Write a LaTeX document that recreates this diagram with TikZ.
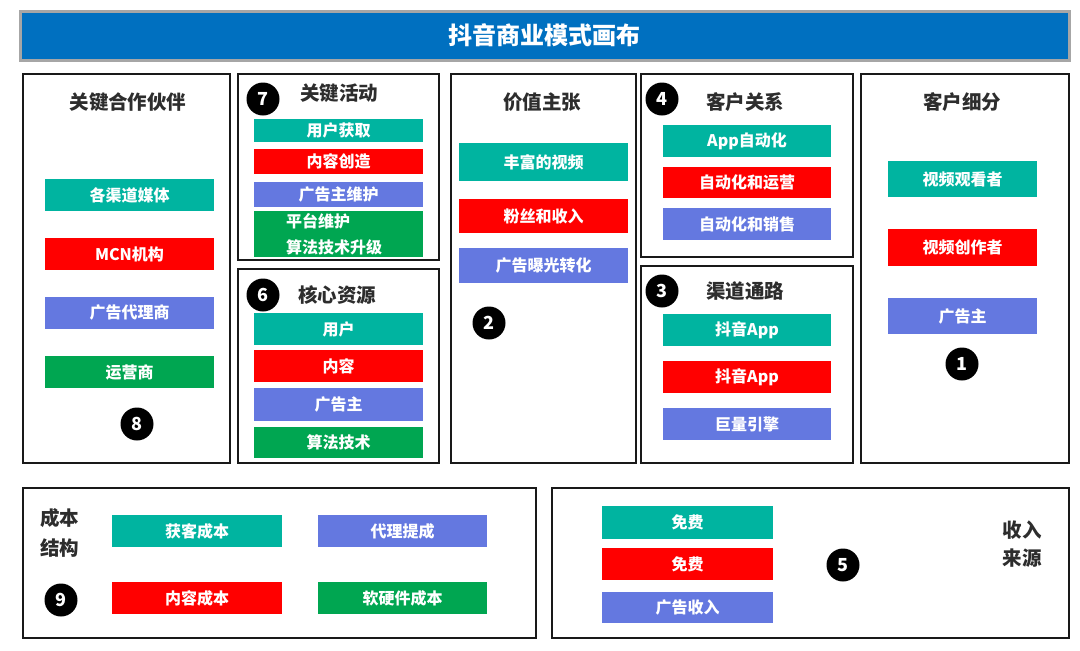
\documentclass[tikz,border=0pt]{standalone}
\usepackage{fontspec}
\setmainfont{Noto Sans CJK SC}
\definecolor{cteal}{RGB}{0,180,160}
\definecolor{cred}{RGB}{255,0,0}
\definecolor{cblue}{RGB}{100,120,224}
\definecolor{cgreen}{RGB}{0,166,81}
\definecolor{ctitle}{RGB}{0,112,192}
\definecolor{cframe}{RGB}{25,25,25}
\definecolor{chead}{RGB}{45,45,45}
\begin{document}
\begin{tikzpicture}[x=1pt,y=-1pt,
  panel/.style={draw=cframe, line width=2.6pt, rectangle, inner sep=0pt},
  itm/.style={rectangle, inner sep=0pt, text=white, font=\bfseries\fontsize{16}{16}\selectfont},
  hd/.style={text=chead, inner sep=0pt, font=\bfseries\fontsize{19.5}{20}\selectfont},
  num/.style={circle, fill=black, text=white, minimum size=33pt, inner sep=0pt, font=\bfseries\fontsize{18}{18}\selectfont},
  w169/.style={minimum width=169pt}
]
\useasboundingbox (0,0) rectangle (1080,651);
% title bar
\node[rectangle, fill=ctitle, draw=black!35, line width=3pt, minimum width=1049pt, minimum height=49pt, text=white, font=\bfseries\fontsize{24}{24}\selectfont] (title) at (544.5,35.5) {抖音商业模式画布};
% panels
\node[panel, minimum width=207pt, minimum height=389pt] (kp) at (126.5,268.5) {};
\node[panel, minimum width=201pt, minimum height=186pt] (ka) at (338.5,167) {};
\node[panel, minimum width=201pt, minimum height=194pt] (kr) at (338.5,366) {};
\node[panel, minimum width=185pt, minimum height=389pt] (vp) at (543.5,268.5) {};
\node[panel, minimum width=212pt, minimum height=183pt] (cr) at (747,165.5) {};
\node[panel, minimum width=212pt, minimum height=197pt] (ch) at (747,364.5) {};
\node[panel, minimum width=208pt, minimum height=389pt] (cs) at (965,268.5) {};
\node[panel, minimum width=513pt, minimum height=150pt] (cost) at (279.5,563) {};
\node[panel, minimum width=517pt, minimum height=150pt] (rev) at (810.5,563) {};

% key partners
\node[hd] (kph) at (128,102) {关键合作伙伴};
\node[itm, w169, minimum height=32pt, fill=cteal] (kp1) at (129.5,195) {各渠道媒体};
\node[itm, w169, minimum height=32pt, fill=cred] (kp2) at (129.5,254) {MCN机构};
\node[itm, w169, minimum height=32pt, fill=cblue] (kp3) at (129.5,312.5) {广告代理商};
\node[itm, w169, minimum height=32pt, fill=cgreen] (kp4) at (129.5,372) {运营商};
\node[num] (n8) at (137,424) {8};

% key activities
\node[num] (n7) at (263,99) {7};
\node[hd] (kah) at (339,93) {关键活动};
\node[itm, w169, minimum height=23.5pt, fill=cteal] (ka1) at (338.5,130.5) {用户获取};
\node[itm, w169, minimum height=25pt, fill=cred] (ka2) at (338.5,161.5) {内容创造};
\node[itm, w169, minimum height=25pt, fill=cblue] (ka3) at (338.5,194.5) {广告主维护};
\node[itm, fill=cgreen, minimum height=46pt, inner xsep=32pt, text width=105pt, align=left, font=\bfseries\fontsize{16}{26}\selectfont] (ka4) at (338.5,234) {平台维护\\算法技术升级};

% key resources
\node[num] (n6) at (263,295) {6};
\node[hd] (krh) at (337,295) {核心资源};
\node[itm, w169, minimum height=32pt, fill=cteal] (kr1) at (338.5,329) {用户};
\node[itm, w169, minimum height=32pt, fill=cred] (kr2) at (338.5,366) {内容};
\node[itm, w169, minimum height=33pt, fill=cblue] (kr3) at (338.5,404.5) {广告主};
\node[itm, w169, minimum height=31pt, fill=cgreen] (kr4) at (338.5,442.5) {算法技术};

% value proposition
\node[hd] (vph) at (542,102) {价值主张};
\node[itm, w169, minimum height=38pt, fill=cteal] (vp1) at (543.5,162) {丰富的视频};
\node[itm, w169, minimum height=34pt, fill=cred] (vp2) at (543.5,216) {粉丝和收入};
\node[itm, w169, minimum height=35pt, fill=cblue] (vp3) at (543.5,265.5) {广告曝光转化};
\node[num] (n2) at (489,323) {2};

% customer relationships
\node[num] (n4) at (662,99) {4};
\node[hd] (crh) at (745,102) {客户关系};
\node[itm, minimum width=168pt, minimum height=32pt, fill=cteal] (cr1) at (747,141) {App自动化};
\node[itm, minimum width=168pt, minimum height=31pt, fill=cred] (cr2) at (747,182.5) {自动化和运营};
\node[itm, minimum width=168pt, minimum height=32pt, fill=cblue] (cr3) at (747,224) {自动化和销售};

% channels
\node[num] (n3) at (662,291) {3};
\node[hd] (chh) at (745,291) {渠道通路};
\node[itm, minimum width=168pt, minimum height=32pt, fill=cteal] (ch1) at (747,330) {抖音App};
\node[itm, minimum width=168pt, minimum height=32pt, fill=cred] (ch2) at (747,377) {抖音App};
\node[itm, minimum width=168pt, minimum height=32pt, fill=cblue] (ch3) at (747,424) {巨量引擎};

% customer segments
\node[hd] (csh) at (962,102) {客户细分};
\node[itm, minimum width=149pt, minimum height=36pt, fill=cteal] (cs1) at (962.5,179) {视频观看者};
\node[itm, minimum width=149pt, minimum height=37pt, fill=cred] (cs2) at (962.5,247.5) {视频创作者};
\node[itm, minimum width=149pt, minimum height=36pt, fill=cblue] (cs3) at (962.5,316) {广告主};
\node[num] (n1) at (962,364) {1};

% cost structure
\node[hd, align=center, font=\bfseries\fontsize{19.5}{30}\selectfont] (costh) at (60,533) {成本\\结构};
\node[num] (n9) at (61,600) {9};
\node[itm, minimum width=170pt, minimum height=32pt, fill=cteal] (c1) at (197,531) {获客成本};
\node[itm, w169, minimum height=32pt, fill=cblue] (c2) at (402.5,531) {代理提成};
\node[itm, minimum width=170pt, minimum height=32pt, fill=cred] (c3) at (197,598) {内容成本};
\node[itm, w169, minimum height=32pt, fill=cgreen] (c4) at (402.5,598) {软硬件成本};

% revenue streams
\node[itm, minimum width=171pt, minimum height=33pt, fill=cteal] (r1) at (687.5,522.5) {免费};
\node[itm, minimum width=171pt, minimum height=32pt, fill=cred] (r2) at (687.5,564) {免费};
\node[itm, minimum width=171pt, minimum height=31pt, fill=cblue] (r3) at (687.5,607.5) {广告收入};
\node[num] (n5) at (843,565) {5};
\node[hd, align=center, font=\bfseries\fontsize{19.5}{28}\selectfont] (revh) at (1022,544) {收入\\来源};
\end{tikzpicture}
\end{document}
